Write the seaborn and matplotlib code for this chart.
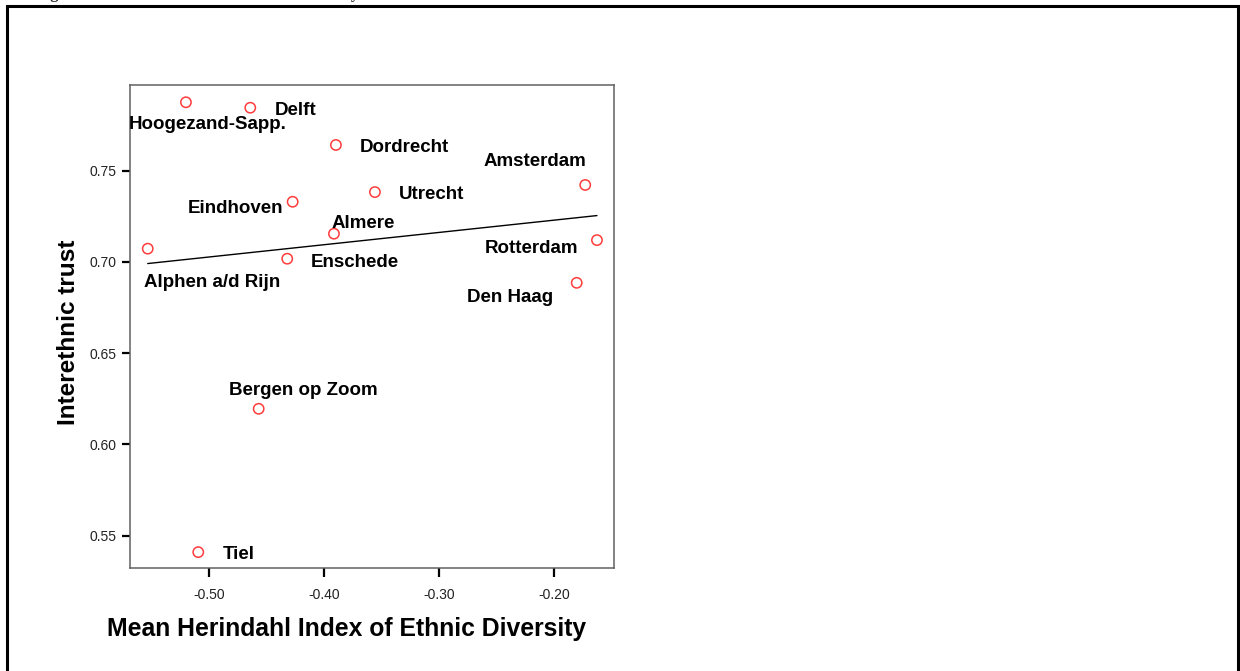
import numpy as np
import pandas as pd
import matplotlib
matplotlib.use("Agg")
import matplotlib.pyplot as plt
import seaborn as sns
from matplotlib.patches import Rectangle

# ---- data ----
cities = ["Hoogezand-Sapp.", "Delft", "Dordrecht", "Amsterdam", "Utrecht",
          "Eindhoven", "Almere", "Alphen a/d Rijn", "Enschede", "Rotterdam",
          "Den Haag", "Bergen op Zoom", "Tiel"]
diversity = [-0.5200, -0.4641, -0.3897, -0.1731, -0.3558,
             -0.4273, -0.3914, -0.5532, -0.4320, -0.1629,
             -0.1805, -0.4568, -0.5093]
trust = [0.7874, 0.7844, 0.7640, 0.7421, 0.7382,
         0.7329, 0.7154, 0.7072, 0.7017, 0.7119,
         0.6885, 0.6195, 0.5410]
x_ticks = [-0.50, -0.40, -0.30, -0.20]
y_ticks = [0.55, 0.60, 0.65, 0.70, 0.75]
x_label = "Mean Herindahl Index of Ethnic Diversity"
y_label = "Interethnic trust"
title_text = "Figure 2: Interethnic trust and ethnic diversity"

df = pd.DataFrame({"city": cities, "div": diversity, "trust": trust})

# label offsets in pixels (dx, dy) relative to each point (layout only)
label_offsets = {
    "Hoogezand-Sapp.": (-57, -27), "Delft": (24, -7), "Dordrecht": (24, -7),
    "Amsterdam": (-102, 19), "Utrecht": (24, -7), "Eindhoven": (-105, -11),
    "Almere": (-2, 6), "Alphen a/d Rijn": (-4, -38), "Enschede": (24, -8),
    "Rotterdam": (-112, -13), "Den Haag": (-110, -19),
    "Bergen op Zoom": (-30, 14), "Tiel": (24, -7),
}

sns.set_style("white")
plt.rcParams["font.family"] = ["Liberation Sans", "DejaVu Sans"]

W, H = 1240, 671
fig = plt.figure(figsize=(W / 100, H / 100), dpi=100)
fig.patch.set_facecolor("white")

ax = fig.add_axes([130 / W, (H - 568) / H, 484 / W, 483 / H])

sns.regplot(data=df, x="div", y="trust", ax=ax, scatter=False, ci=None,
            truncate=True, line_kws={"color": "black", "lw": 1.0})
sns.scatterplot(data=df, x="div", y="trust", ax=ax, marker="o", s=55,
                facecolor="none", edgecolor="#ff3c3c", linewidth=1.1,
                zorder=3, legend=False)

for c, xv, yv in zip(cities, diversity, trust):
    dx, dy = label_offsets[c]
    ax.annotate(c, (xv, yv), xytext=(dx, dy), textcoords="offset pixels",
                ha="left", va="baseline", fontsize=13.5, fontweight="bold",
                color="black", annotation_clip=False, clip_on=False)

ax.set_xlim(-0.5686, -0.1481)
ax.set_ylim(0.5323, 0.79685)
ax.set_xticks(x_ticks)
ax.set_yticks(y_ticks)
ax.set_xticklabels([f"{v:.2f}" for v in x_ticks])
ax.set_yticklabels([f"{v:.2f}" for v in y_ticks])

for s in ax.spines.values():
    s.set_visible(True)
    s.set_color("#606060")
    s.set_linewidth(1.1)

ax.tick_params(axis="x", which="major", direction="out", length=6.5, width=1.6,
               color="black", labelsize=10, labelcolor="#222222", pad=8,
               bottom=True, top=False)
ax.tick_params(axis="y", which="major", direction="out", length=6, width=1.6,
               color="black", labelsize=10, labelcolor="#222222", pad=3.5,
               left=True, right=False)

ax.set_xlabel(x_label, fontsize=17.8, fontweight="bold", color="black")
ax.set_ylabel(y_label, fontsize=17.6, fontweight="bold", color="black")
ax.xaxis.set_label_coords(0.447, -0.1408)
ax.xaxis.label.set_va("baseline")
ax.yaxis.set_label_coords(-0.1136, 0.4886)
ax.yaxis.label.set_va("baseline")

# outer page frame (bottom edge lies below the crop)
fig.patches.append(Rectangle((6.5 / W, -0.05), (1238 - 6.5) / W,
                             1.05 - 5.7 / H, transform=fig.transFigure,
                             fill=False, edgecolor="black", lw=2.2))

# caption above the frame, cut off by the crop so only descenders show
fig.text(35.5 / W, 1 + 2.2 / H, title_text, family=["Liberation Serif", "DejaVu Serif"],
         fontweight="bold", fontsize=11.7, ha="left", va="baseline")

fig.savefig("out.png", dpi=100)
